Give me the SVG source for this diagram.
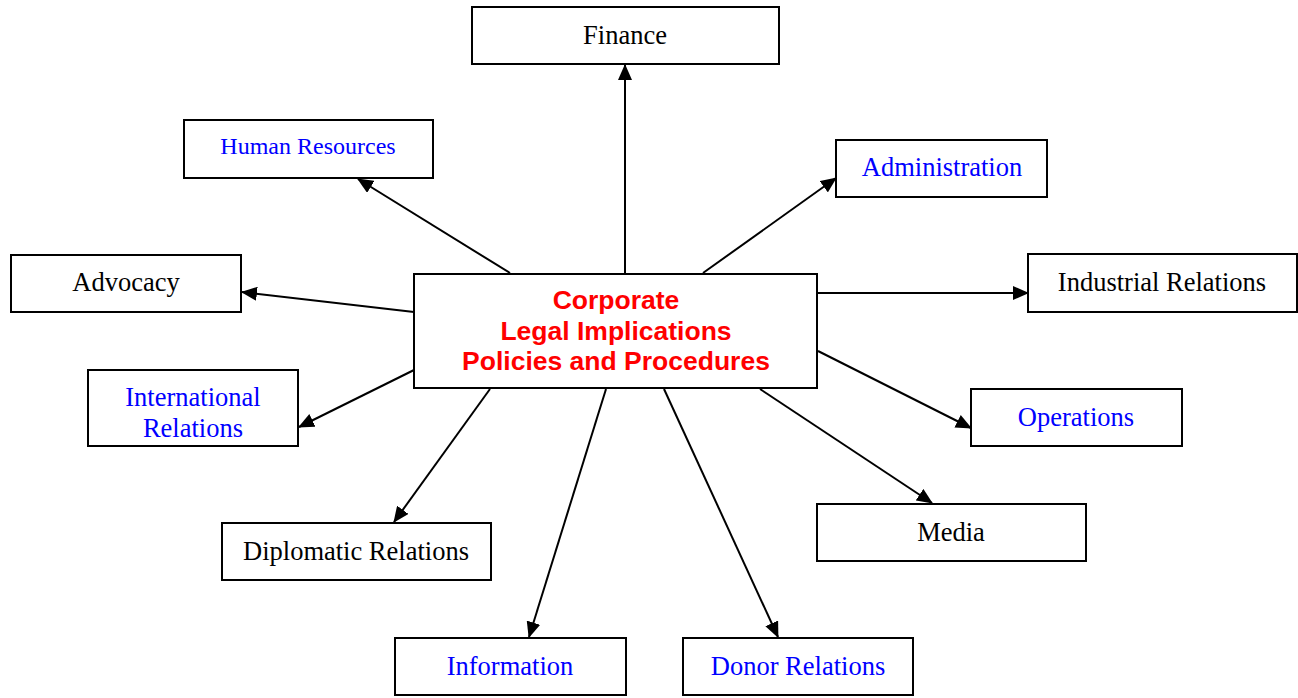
<svg xmlns="http://www.w3.org/2000/svg" width="1298" height="698" viewBox="0 0 1298 698">
<style>
.box{fill:#fff;stroke:#000;stroke-width:2}
.t{font-family:"Liberation Serif","Times New Roman",serif;font-size:26.5px;text-anchor:middle}
.k{fill:#000}
.b{fill:#0000ff}
.c{font-family:"Liberation Sans",Arial,sans-serif;font-size:26.5px;font-weight:bold;fill:#ff0000;text-anchor:middle}
.e{stroke:#000;stroke-width:2;fill:none;marker-end:url(#ah)}
</style>
<defs>
<marker id="ah" markerUnits="userSpaceOnUse" markerWidth="16" markerHeight="14" viewBox="0 0 16 14" refX="15" refY="7" orient="auto">
<path d="M0,0 L16,7 L0,14 Z" fill="#000"/>
</marker>
</defs>
<g id="connectors">
<line class="e" x1="625" y1="273" x2="625" y2="65"/>
<line class="e" x1="510" y1="273" x2="358" y2="179"/>
<line class="e" x1="703" y1="273" x2="836" y2="178"/>
<line class="e" x1="414" y1="312" x2="242" y2="292"/>
<line class="e" x1="818" y1="293" x2="1028" y2="293"/>
<line class="e" x1="414" y1="370" x2="299" y2="427"/>
<line class="e" x1="818" y1="351" x2="971" y2="428"/>
<line class="e" x1="490" y1="389" x2="394" y2="522"/>
<line class="e" x1="760" y1="389" x2="932" y2="503"/>
<line class="e" x1="606" y1="389" x2="529" y2="637"/>
<line class="e" x1="664" y1="389" x2="778" y2="637"/>
</g>
<g id="center">
<rect class="box" x="414" y="274" width="403" height="114"/>
<text class="c" x="616" y="309">Corporate</text>
<text class="c" x="616" y="340">Legal Implications</text>
<text class="c" x="616" y="370">Policies and Procedures</text>
</g>
<g id="finance">
<rect class="box" x="472" y="7" width="307" height="57"/>
<text class="t k" x="625" y="44">Finance</text>
</g>
<g id="human-resources">
<rect class="box" x="184" y="120" width="249" height="58"/>
<text class="t b" x="308" y="154" style="font-size:24px">Human Resources</text>
</g>
<g id="administration">
<rect class="box" x="836" y="140" width="211" height="57"/>
<text class="t b" x="942" y="176">Administration</text>
</g>
<g id="advocacy">
<rect class="box" x="11" y="255" width="230" height="57"/>
<text class="t k" x="126" y="291">Advocacy</text>
</g>
<g id="industrial-relations">
<rect class="box" x="1028" y="254" width="269" height="58"/>
<text class="t k" x="1162" y="291">Industrial Relations</text>
</g>
<g id="international-relations">
<rect class="box" x="88" y="370" width="210" height="76"/>
<text class="t b" x="193" y="406">International</text>
<text class="t b" x="193" y="437">Relations</text>
</g>
<g id="operations">
<rect class="box" x="971" y="389" width="211" height="57"/>
<text class="t b" x="1076" y="426">Operations</text>
</g>
<g id="diplomatic-relations">
<rect class="box" x="222" y="523" width="269" height="57"/>
<text class="t k" x="356" y="560">Diplomatic Relations</text>
</g>
<g id="media">
<rect class="box" x="817" y="504" width="269" height="57"/>
<text class="t k" x="951" y="541">Media</text>
</g>
<g id="information">
<rect class="box" x="395" y="638" width="231" height="57"/>
<text class="t b" x="510" y="675">Information</text>
</g>
<g id="donor-relations">
<rect class="box" x="683" y="638" width="230" height="57"/>
<text class="t b" x="798" y="675">Donor Relations</text>
</g>
</svg>
